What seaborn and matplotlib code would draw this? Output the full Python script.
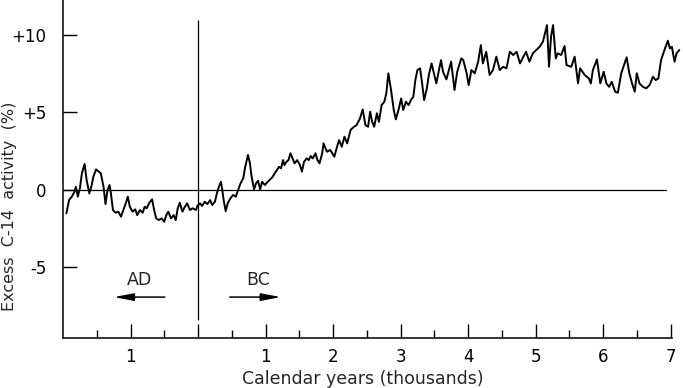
import matplotlib
matplotlib.use("Agg")
import matplotlib.pyplot as plt
import seaborn as sns
import pandas as pd

# calendar years in thousands: negative = AD, positive = BC
years_k = [
    -1.95, -1.91, -1.87, -1.83, -1.81, -1.78, -1.75, -1.72, -1.68, -1.65,
    -1.61, -1.58, -1.55, -1.51, -1.47, -1.44, -1.40, -1.37, -1.34, -1.31,
    -1.29, -1.26, -1.22, -1.18, -1.14, -1.11, -1.07, -1.04, -1.01, -0.97,
    -0.93, -0.90, -0.86, -0.82, -0.79, -0.76, -0.72, -0.68, -0.65, -0.62,
    -0.58, -0.54, -0.50, -0.47, -0.44, -0.40, -0.36, -0.33, -0.30, -0.27,
    -0.23, -0.20, -0.16, -0.12, -0.08, -0.03,
    -0.01, 0.03, 0.06, 0.10, 0.14, 0.18, 0.21, 0.25, 0.28, 0.31,
    0.34, 0.36, 0.38, 0.41, 0.44, 0.48, 0.52, 0.56, 0.59, 0.63,
    0.67, 0.70, 0.74, 0.77, 0.79, 0.83, 0.86, 0.89, 0.92, 0.95,
    0.99, 1.02, 1.06, 1.10, 1.13, 1.17, 1.20, 1.23, 1.26, 1.28,
    1.31, 1.34, 1.37, 1.40, 1.43, 1.47, 1.51, 1.54, 1.57, 1.61,
    1.64, 1.67, 1.70, 1.74, 1.77, 1.80, 1.84, 1.86,
    1.91, 1.96, 2.02, 2.06, 2.09, 2.13, 2.17, 2.21, 2.26, 2.30,
    2.35, 2.40, 2.44, 2.48, 2.52, 2.55, 2.58, 2.61, 2.65, 2.68,
    2.72, 2.76, 2.79, 2.82, 2.86, 2.90, 2.93, 2.97, 3.01, 3.04,
    3.08, 3.12, 3.16, 3.19, 3.22, 3.25, 3.29, 3.32, 3.35, 3.39,
    3.42, 3.46, 3.50, 3.53, 3.57, 3.60, 3.63, 3.68,
    3.75, 3.80, 3.84, 3.90, 3.93, 3.98, 4.01, 4.05, 4.10, 4.15,
    4.19, 4.22, 4.27, 4.32, 4.37, 4.42, 4.47, 4.52, 4.57, 4.62,
    4.67, 4.72, 4.77, 4.82, 4.86, 4.91, 4.96, 5.01, 5.06, 5.11,
    5.14, 5.17, 5.20, 5.23, 5.26, 5.30, 5.33, 5.38, 5.43, 5.46,
    5.53, 5.58, 5.63, 5.66, 5.73, 5.79, 5.82, 5.85, 5.91, 5.96,
    6.01, 6.05, 6.09, 6.13, 6.18, 6.22, 6.27, 6.32, 6.35, 6.39,
    6.43, 6.47, 6.50, 6.54, 6.59, 6.64, 6.69, 6.74, 6.78, 6.82,
    6.86, 6.91, 6.96, 6.99, 7.02, 7.06, 7.09, 7.13,
]

# excess C-14 activity (%)
excess_pct = [
    -1.54, -0.68, -0.46, -0.14, 0.18, -0.46, 0.08, 1.05, 1.65, 0.61,
    -0.25, 0.18, 0.83, 1.30, 1.15, 1.05, 0.18, -0.94, -0.03, 0.29,
    -0.25, -1.32, -1.50, -1.43, -1.75, -1.37, -0.89, -0.46, -1.11, -1.43,
    -1.28, -1.65, -1.32, -1.50, -1.11, -1.21, -0.85, -0.63, -1.32, -1.86,
    -1.97, -1.86, -2.08, -1.65, -1.43, -1.86, -1.65, -1.97, -1.21, -0.85,
    -1.43, -1.15, -0.89, -1.32, -1.21, -1.32,
    -1.06, -0.89, -1.06, -0.79, -0.94, -0.68, -1.00, -0.79, -0.25, 0.18,
    0.50, -0.03, -0.68, -1.40, -0.89, -0.57, -0.35, -0.46, -0.08, 0.40,
    0.72, 1.47, 2.23, 1.69, 0.94, 0.01, 0.40, 0.57, 0.01, 0.50,
    0.29, 0.44, 0.61, 0.79, 1.00, 1.26, 1.47, 1.37, 1.90, 1.58,
    1.79, 1.90, 2.34, 2.01, 1.69, 1.90, 1.58, 1.15, 1.79, 2.01,
    1.90, 2.16, 2.01, 2.34, 1.90, 1.69, 2.34, 2.98,
    2.44, 2.55, 2.12, 2.76, 3.19, 2.76, 3.41, 2.98, 3.84, 4.01,
    4.16, 4.59, 5.17, 4.16, 4.05, 5.02, 4.37, 4.05, 4.92, 4.37,
    5.45, 5.66, 6.21, 7.50, 6.42, 5.13, 4.53, 5.13, 5.88, 5.13,
    5.66, 5.45, 5.82, 5.99, 7.06, 7.71, 7.82, 6.85, 5.77, 6.53,
    7.39, 8.14, 7.39, 6.85, 7.71, 8.35, 7.60, 7.11,
    8.25, 6.42, 7.60, 8.46, 8.35, 7.50, 6.74, 7.71, 7.50, 8.25,
    9.32, 8.14, 8.89, 7.39, 7.71, 8.57, 7.71, 7.92, 7.82, 8.89,
    8.68, 8.89, 8.14, 8.57, 8.89, 8.25, 8.79, 9.00, 9.21, 9.54,
    10.08, 10.61, 7.92, 9.86, 10.61, 8.46, 8.79, 8.68, 9.26, 8.03,
    7.92, 8.57, 6.85, 7.82, 7.39, 7.17, 6.85, 7.71, 8.40, 6.85,
    7.60, 6.85, 6.63, 6.95, 6.31, 6.25, 7.50, 8.14, 8.53, 7.50,
    6.85, 6.31, 7.50, 6.85, 6.63, 6.53, 6.74, 7.28, 7.06, 7.17,
    8.35, 9.00, 9.60, 9.11, 9.21, 8.25, 8.79, 9.00,
]

x_major = [-1, 0, 1, 2, 3, 4, 5, 6, 7]
x_major_labels = ["1", "", "1", "2", "3", "4", "5", "6", "7"]
x_minor = [-1.5, -0.5, 0.5, 1.5, 2.5, 3.5, 4.5, 5.5, 6.5]
y_major = [-5, 0, 5, 10]
y_major_labels = ["-5", "0", "+5", "+10"]

df = pd.DataFrame({"year": years_k, "excess": excess_pct})

sns.set_theme(style="ticks")
plt.rcParams["font.family"] = ["DejaVu Sans"]

fig = plt.figure(figsize=(6.83, 3.88), dpi=100)
ax = fig.add_axes([63 / 683, 50 / 388, 620 / 683, 338 / 388])

sns.lineplot(data=df, x="year", y="excess", color="black", lw=1.4,
             estimator=None, sort=False, ax=ax)

ax.set_xlim(-2, 7.185)
ax.set_ylim(-9.58, 12.23)

# reference lines: zero level and the AD/BC boundary
ax.axhline(0, xmin=0, xmax=(6.93 + 2) / 9.185, color="black", lw=0.9)
ax.vlines(0, -8.4, 10.95, color="black", lw=0.9)

# AD / BC arrows
arr = dict(arrowstyle="-|>,head_length=0.85,head_width=0.16", color="black",
           lw=1.1, mutation_scale=14)
ax.annotate("", xy=(-1.29, -6.94), xytext=(-0.45, -6.94), arrowprops=arr)
ax.annotate("", xy=(1.27, -6.94), xytext=(0.43, -6.94), arrowprops=arr)
ax.text(-0.86, -5.84, "AD", ha="center", va="center", fontsize=12.5)
ax.text(0.89, -5.84, "BC", ha="center", va="center", fontsize=12.5)

ax.set_xticks(x_major)
ax.set_xticklabels(x_major_labels)
ax.set_xticks(x_minor, minor=True)
ax.set_yticks(y_major)
ax.set_yticklabels(y_major_labels)

ax.tick_params(axis="both", which="both", direction="in", colors="black",
               width=1.0, labelsize=12)
ax.tick_params(axis="x", which="major", length=10, pad=7)
ax.tick_params(axis="x", which="minor", length=6)
ax.tick_params(axis="y", which="major", length=10, pad=12)

for side in ["top", "right"]:
    ax.spines[side].set_visible(False)
for side in ["left", "bottom"]:
    ax.spines[side].set_color("black")
    ax.spines[side].set_linewidth(1.1)
ax.spines["bottom"].set_bounds(-2, 7.02)

ax.set_xlabel("Calendar years (thousands)", fontsize=12.5)
ax.set_ylabel("Excess  C-14  activity  (%)", fontsize=11.5)
ax.xaxis.set_label_coords(0.484, -0.095)
ax.yaxis.set_label_coords(-0.074, 0.39)

fig.savefig("out.png", dpi=100)
